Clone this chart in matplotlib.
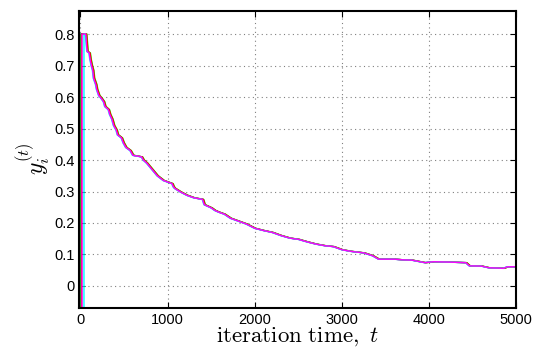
"""Consensus trajectories y_i(t) over iteration time."""

import matplotlib

matplotlib.use("Agg")

import matplotlib.pyplot as plt

# shared trajectory
base_t = [0, 60, 75, 100, 110, 125, 140, 150, 175, 185, 210, 240, 265, 280,
          320, 335, 360, 380, 410, 425, 470, 490, 520, 570, 600, 700, 720,
          760, 790, 820, 850, 880, 950, 1050, 1065, 1080, 1150, 1220, 1300,
          1400, 1420, 1500, 1540, 1580, 1650, 1720, 1800, 1900, 2000, 2100,
          2200, 2300, 2400, 2500, 2600, 2700, 2800, 2900, 2950, 3000, 3100,
          3250, 3350, 3420, 3600, 3700, 3800, 3950, 4050, 4200, 4420, 4460,
          4600, 4680, 4850, 4900, 5000]
base_y = [0.80, 0.80, 0.745, 0.74, 0.72, 0.70, 0.685, 0.66, 0.64, 0.625,
          0.605, 0.595, 0.585, 0.57, 0.56, 0.545, 0.53, 0.51, 0.495, 0.48,
          0.47, 0.455, 0.44, 0.43, 0.415, 0.41, 0.40, 0.39, 0.38, 0.37, 0.36,
          0.35, 0.335, 0.325, 0.315, 0.31, 0.298, 0.288, 0.28, 0.275, 0.258,
          0.248, 0.24, 0.235, 0.228, 0.215, 0.207, 0.197, 0.183, 0.176, 0.17,
          0.16, 0.152, 0.148, 0.14, 0.133, 0.128, 0.125, 0.12, 0.115, 0.11,
          0.105, 0.096, 0.085, 0.085, 0.083, 0.082, 0.074, 0.077, 0.076,
          0.074, 0.064, 0.063, 0.058, 0.056, 0.061, 0.061]

# per node: colour, time it jumps up from its initial value, initial value, lag
node_colors = ["#0000ff", "#00ff00", "#ff0000", "#00ffff", "#ff00ff"]
node_start_t = [0, 5, 12, 40, 18]
node_start_y = [-0.35, -0.5, -0.25, -0.6, -0.4]
node_lag = [4, 14, 10, -4, 0]


def main():
    plt.rcParams["mathtext.fontset"] = "cm"
    fig = plt.figure(figsize=(5.35, 3.5), dpi=100)
    ax = fig.add_axes([0.148, 0.12, 0.817, 0.85])

    for color, t0, y0, lag in zip(node_colors, node_start_t, node_start_y, node_lag):
        ts = [0, t0, t0] + [max(t + lag, t0) for t in base_t[1:]]
        ys = [y0, y0, 0.8] + base_y[1:]
        ax.plot(ts, ys, color=color, lw=1.0)

    ax.set_xlim(-15, 5000)
    ax.set_ylim(-0.07, 0.875)
    ax.set_xticks([0, 1000, 2000, 3000, 4000, 5000])
    ax.set_yticks([0, 0.1, 0.2, 0.3, 0.4, 0.5, 0.6, 0.7, 0.8])
    ax.set_yticklabels(["0", "0.1", "0.2", "0.3", "0.4", "0.5", "0.6", "0.7", "0.8"])
    ax.grid(True, color="#808080", linestyle=(0, (1, 3)), lw=0.8)
    ax.tick_params(direction="in", top=True, right=True, length=4, labelsize=10.5,
                   labelfontfamily="Liberation Sans")
    for spine in ax.spines.values():
        spine.set_linewidth(1.5)

    ax.set_xlabel(r"$\mathrm{iteration\ time,}\ t$", fontsize=16.5, labelpad=-1)
    ax.set_ylabel(r"$y_i^{(t)}$", fontsize=17, labelpad=1)

    fig.savefig("out.png", dpi=100)
    plt.close(fig)


if __name__ == "__main__":
    main()
